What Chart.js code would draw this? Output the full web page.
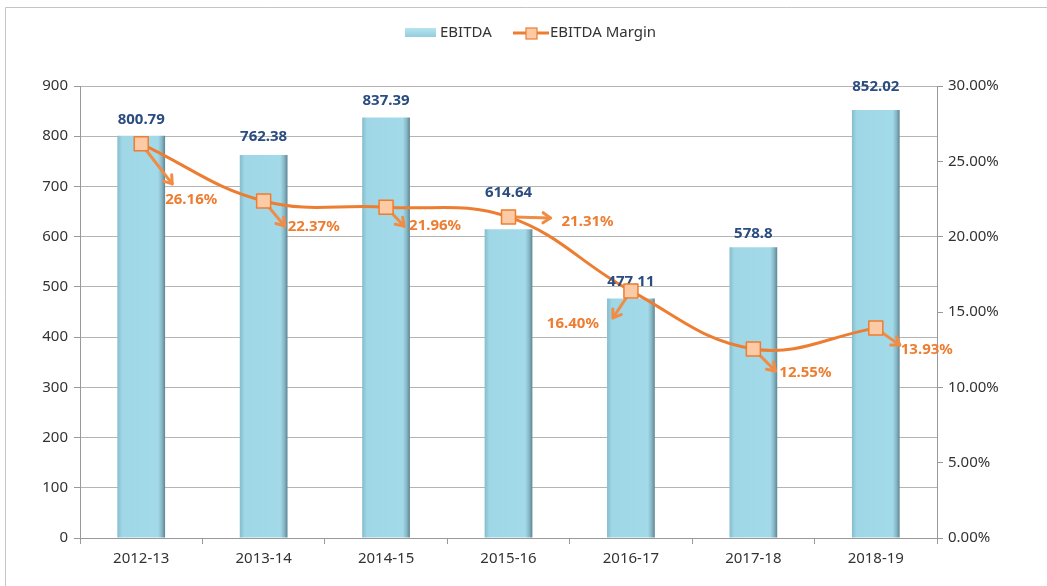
<!DOCTYPE html>
<html>
<head>
<meta charset="utf-8">
<script src="https://cdn.jsdelivr.net/npm/chart.js@4/dist/chart.umd.min.js"></script>
<style>
html,body{margin:0;padding:0;background:#fff;}
#wrap{width:1047px;height:586px;position:relative;}
</style>
</head>
<body>
<div id="wrap"><canvas id="c" width="1047" height="586"></canvas></div>
<script>
const categories = ['2012-13','2013-14','2014-15','2015-16','2016-17','2017-18','2018-19'];
const ebitda = [800.79, 762.38, 837.39, 614.64, 477.11, 578.8, 852.02];
const margin = [26.16, 22.37, 21.96, 21.31, 16.40, 12.55, 13.93];
const ebitdaLabels = ['800.79','762.38','837.39','614.64','477.11','578.8','852.02'];
const marginLabels = ['26.16%','22.37%','21.96%','21.31%','16.40%','12.55%','13.93%'];

// label placement styles
const barLabelLift = [16, 18, 17, 37, 17, 14, 23];
// [textDx, textDy, arrowDx, arrowDy, align]
const pctLabelStyle = [
  [24, 56, 31, 40, 'left'],
  [24, 26, 21, 25, 'left'],
  [23, 19, 18, 19, 'left'],
  [53, 5, 42, 1, 'left'],
  [-32, 33, -18, 27, 'right'],
  [26, 24, 22, 22, 'left'],
  [25, 22, 24, 17, 'left']
];

const FONT = "'Noto Sans', 'Open Sans', sans-serif";
const ORANGE = '#ED7D31';
const ARROW = '#F08C45';
const NAVY = '#2A4C7F';

function barGradient(ctx) {
  const chart = ctx.chart;
  const xs = chart.scales && chart.scales.x;
  if (!xs || !chart.chartArea || ctx.dataIndex === undefined) return '#a3d9e8';
  const cx = xs.getPixelForValue(ctx.dataIndex);
  const w = (chart.chartArea.right - chart.chartArea.left) / categories.length * 0.39;
  const g = chart.ctx.createLinearGradient(cx - w/2, 0, cx + w/2, 0);
  g.addColorStop(0, '#86bccc');
  g.addColorStop(0.1, '#9fd7e7');
  g.addColorStop(0.85, '#a3daea');
  g.addColorStop(0.93, '#88b8c6');
  g.addColorStop(1, '#5d8593');
  return g;
}

const framePlugin = {
  id: 'frame',
  beforeDraw(chart) {
    const c = chart.ctx;
    c.save();
    c.fillStyle = '#fff';
    c.fillRect(0, 0, chart.width, chart.height);
    c.strokeStyle = '#c4c4c4';
    c.lineWidth = 1;
    c.beginPath();
    c.moveTo(5.5, chart.height);
    c.lineTo(5.5, 7.5);
    c.lineTo(chart.width, 7.5);
    c.stroke();
    c.restore();
  }
};

const legendPlugin = {
  id: 'customLegend',
  afterDraw(chart) {
    const c = chart.ctx;
    const ds = chart.data.datasets;
    c.save();
    const g = c.createLinearGradient(0, 28, 0, 38);
    g.addColorStop(0, '#b8e4f0');
    g.addColorStop(1, '#8fcadc');
    c.fillStyle = g;
    c.fillRect(405, 28, 31, 9);
    c.font = '15px ' + FONT;
    c.fillStyle = '#333';
    c.textBaseline = 'middle';
    c.textAlign = 'left';
    c.fillText(ds[0].label, 440, 33);
    c.strokeStyle = ORANGE;
    c.lineWidth = 3;
    c.beginPath(); c.moveTo(513, 33); c.lineTo(549, 33); c.stroke();
    c.fillStyle = '#FCCBA6';
    c.fillRect(526, 28, 11, 11);
    c.lineWidth = 1.2;
    c.strokeRect(526, 28, 11, 11);
    c.fillStyle = '#333';
    c.fillText(ds[1].label, 550, 33);
    c.restore();
  }
};

const labelPlugin = {
  id: 'valueLabels',
  afterDatasetsDraw(chart) {
    const c = chart.ctx;
    c.save();
    const barMeta = chart.getDatasetMeta(0);
    c.font = 'bold 15px ' + FONT;
    c.fillStyle = NAVY;
    c.textAlign = 'center';
    c.textBaseline = 'middle';
    barMeta.data.forEach((el, i) => {
      c.fillText(ebitdaLabels[i], el.x, el.y - barLabelLift[i]);
    });
    const lineMeta = chart.getDatasetMeta(1);
    lineMeta.data.forEach((el, i) => {
      const s = pctLabelStyle[i];
      const x0 = el.x, y0 = el.y;
      const x1 = x0 + s[2], y1 = y0 + s[3];
      const ang = Math.atan2(y1 - y0, x1 - x0);
      c.strokeStyle = ARROW;
      c.lineWidth = 3;
      c.lineCap = 'round';
      c.lineJoin = 'round';
      c.beginPath();
      c.moveTo(x0 + Math.cos(ang) * 4, y0 + Math.sin(ang) * 4);
      c.lineTo(x1, y1);
      c.stroke();
      const hl = 9;
      c.beginPath();
      c.moveTo(x1 - hl * Math.cos(ang - 0.6), y1 - hl * Math.sin(ang - 0.6));
      c.lineTo(x1, y1);
      c.lineTo(x1 - hl * Math.cos(ang + 0.6), y1 - hl * Math.sin(ang + 0.6));
      c.stroke();
      c.fillStyle = ORANGE;
      c.font = 'bold 15px ' + FONT;
      c.textAlign = s[4];
      c.textBaseline = 'middle';
      c.fillText(marginLabels[i], x0 + s[0], y0 + s[1]);
    });
    lineMeta.data.forEach((el) => {
      c.fillStyle = '#FCCBA6';
      c.strokeStyle = ORANGE;
      c.lineWidth = 1.5;
      c.fillRect(el.x - 7, el.y - 7, 14, 14);
      c.strokeRect(el.x - 7, el.y - 7, 14, 14);
    });
    c.restore();
  }
};

new Chart(document.getElementById('c'), {
  data: {
    labels: categories,
    datasets: [
      {
        type: 'bar',
        label: 'EBITDA',
        data: ebitda,
        yAxisID: 'y',
        order: 2,
        backgroundColor: barGradient,
        borderWidth: 0,
        barPercentage: 0.39,
        categoryPercentage: 1
      },
      {
        type: 'line',
        label: 'EBITDA Margin',
        data: margin,
        yAxisID: 'y1',
        order: 1,
        borderColor: ORANGE,
        borderWidth: 3,
        tension: 0.4,
        pointStyle: 'rect',
        pointRadius: 7,
        pointBackgroundColor: '#FCCBA6',
        pointBorderColor: ORANGE,
        pointBorderWidth: 1.5
      }
    ]
  },
  options: {
    responsive: false,
    animation: false,
    layout: { padding: { top: 86, left: 0, right: 0, bottom: 0 } },
    plugins: {
      legend: { display: false },
      tooltip: { enabled: false }
    },
    scales: {
      x: {
        offset: true,
        grid: { display: true, drawOnChartArea: false, drawTicks: true, tickLength: 6, offset: true, color: '#999' },
        border: { color: '#999' },
        ticks: { font: { family: FONT, size: 15 }, color: '#333', padding: 6 },
        afterFit(s) { s.height = 48; }
      },
      y: {
        position: 'left',
        min: 0, max: 900,
        ticks: { stepSize: 100, font: { family: FONT, size: 15 }, color: '#333', padding: 6 },
        grid: { color: '#b4b4b4', tickLength: 6, tickColor: '#999' },
        border: { color: '#999' },
        afterFit(s) { s.width = 80; }
      },
      y1: {
        position: 'right',
        min: 0, max: 30,
        ticks: {
          stepSize: 5,
          font: { family: FONT, size: 15 }, color: '#333', padding: 5,
          callback: (v) => v.toFixed(2) + '%'
        },
        grid: { drawOnChartArea: false, tickLength: 6, color: '#999' },
        border: { color: '#999' },
        afterFit(s) { s.width = 110; }
      }
    }
  },
  plugins: [framePlugin, legendPlugin, labelPlugin]
});
</script>
</body>
</html>
